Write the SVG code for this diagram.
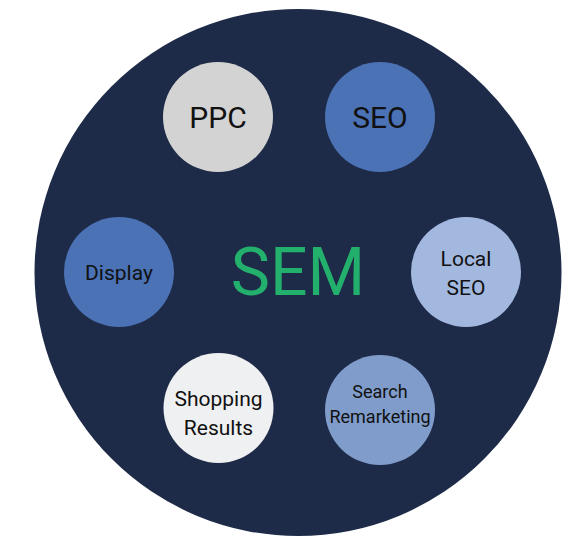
<svg xmlns="http://www.w3.org/2000/svg" width="577" height="555" viewBox="0 0 577 555">
<style>
.lbl{font-family:Roboto,"Liberation Sans",sans-serif;fill:#111111;text-anchor:middle}
</style>
<rect width="577" height="555" fill="#ffffff"/>
<g id="sem">
<circle cx="298" cy="272.5" r="263.5" fill="#1e2b48"/>
<text x="298" y="295" font-family="Roboto,'Liberation Sans',sans-serif" font-size="66" fill="#23b06c" text-anchor="middle">SEM</text>
</g>
<g id="connectors"></g>
<g id="ppc">
<circle cx="218" cy="117" r="55" fill="#d3d3d3"/>
<text class="lbl" x="218" y="128" font-size="30">PPC</text>
</g>
<g id="seo">
<circle cx="380" cy="117" r="55" fill="#4a72b5"/>
<text class="lbl" x="380" y="128" font-size="30">SEO</text>
</g>
<g id="display">
<circle cx="119" cy="272" r="55" fill="#4a72b5"/>
<text class="lbl" x="119" y="280" font-size="21">Display</text>
</g>
<g id="local-seo">
<circle cx="466" cy="272" r="55" fill="#a3b8de"/>
<text class="lbl" x="466" y="266" font-size="21">Local</text>
<text class="lbl" x="466" y="295" font-size="21">SEO</text>
</g>
<g id="shopping">
<circle cx="218.5" cy="408" r="55" fill="#eff0f2"/>
<text class="lbl" x="218.5" y="406" font-size="21">Shopping</text>
<text class="lbl" x="218.5" y="435" font-size="21">Results</text>
</g>
<g id="search-remarketing">
<circle cx="380" cy="410" r="55" fill="#7f9ccb"/>
<text class="lbl" x="380" y="398" font-size="18">Search</text>
<text class="lbl" x="380" y="423" font-size="18">Remarketing</text>
</g>
</svg>
